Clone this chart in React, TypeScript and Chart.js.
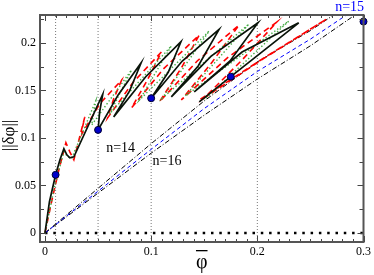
import React, { useEffect, useRef } from "react";
import { Chart, registerables } from "chart.js";

Chart.register(...registerables);

// ---- axes ----
const X_MIN = -0.0047;
const X_MAX = 0.3;
const Y_MIN = -0.0095;
const Y_MAX = 0.2294;
const X_TICKS = [0, 0.1, 0.2, 0.3];
const Y_TICKS = [0, 0.05, 0.1, 0.15, 0.2];

// ---- snaking branch, black solid ----
const BLACK_X = [0, 0.0042, 0.01, 0.0141, 0.0178, 0.0206, 0.0234, 0.0272, 0.0544, 0.0515, 0.05, 0.0689, 0.0906, 0.0797, 0.0647, 0.0947, 0.1281, 0.1162, 0.1, 0.1293, 0.164, 0.1443, 0.119, 0.1565, 0.2006, 0.1743, 0.1406, 0.1856, 0.239, 0.175, 0.1453];
const BLACK_Y = [0, 0.0329, 0.0612, 0.077, 0.0886, 0.0822, 0.0791, 0.0801, 0.146, 0.1274, 0.1085, 0.1453, 0.1792, 0.1495, 0.1222, 0.1642, 0.2013, 0.1694, 0.1418, 0.181, 0.2143, 0.1757, 0.1432, 0.1862, 0.2212, 0.181, 0.1484, 0.1904, 0.2212, 0.1645, 0.1379];

// ---- snaking branch, red dashed ----
const RED_X = [0, 0.0066, 0.0131, 0.0197, 0.0234, 0.0272, 0.0375, 0.0356, 0.0347, 0.0515, 0.0722, 0.0647, 0.059, 0.0825, 0.1097, 0.0965, 0.0815, 0.1115, 0.1453, 0.1284, 0.1078, 0.1434, 0.1828, 0.1575, 0.1284, 0.1715, 0.2184, 0.1856, 0.15, 0.2062, 0.2652, 0.2062, 0.1453];
const RED_Y = [0, 0.035, 0.0665, 0.0949, 0.0854, 0.077, 0.1222, 0.1127, 0.1043, 0.1358, 0.161, 0.1411, 0.1211, 0.1579, 0.1905, 0.161, 0.1316, 0.1726, 0.2083, 0.1736, 0.138, 0.181, 0.2188, 0.1799, 0.14, 0.1841, 0.222, 0.182, 0.1421, 0.1838, 0.2251, 0.1842, 0.14];

// ---- snaking branch, green dotted ----
const GREEN_X = [0, 0.0094, 0.0178, 0.0216, 0.0253, 0.0478, 0.044, 0.0815, 0.0609, 0.119, 0.089, 0.1546, 0.1106, 0.1921, 0.1321, 0.2296, 0.15];
const GREEN_Y = [0, 0.0507, 0.0854, 0.0801, 0.0791, 0.1389, 0.1137, 0.1715, 0.1253, 0.1968, 0.14, 0.2125, 0.1421, 0.2199, 0.1442, 0.223, 0.14];

// ---- periodic branches ----
const N14_X = [0, 0.05, 0.1, 0.15, 0.2, 0.25, 0.2718];
const N14_Y = [0, 0.047, 0.094, 0.139, 0.18, 0.213, 0.2294];
const N15_X = [0, 0.05, 0.1, 0.15, 0.2, 0.25, 0.284];
const N15_Y = [0, 0.044, 0.088, 0.131, 0.17, 0.204, 0.2294];
const N16_X = [0, 0.05, 0.1, 0.15, 0.2, 0.25, 0.292];
const N16_Y = [0, 0.042, 0.084, 0.124, 0.162, 0.197, 0.2294];

// ---- marked states ----
const DOT_X = [0.01, 0.05, 0.1, 0.175, 0.3];
const DOT_Y = [0.0612, 0.1085, 0.1418, 0.1645, 0.2225];

// ---- reference lines ----
const VLINE_X = [0.01, 0.05, 0.1, 0.2];
const ZERO_X = [0, 0.3];
const ZERO_Y = [0, 0];

// ---- annotations ----
const LABEL_TEXT = ["n=14", "n=16", "n=15"];
const LABEL_X = [0.0712, 0.1149, 0.2869];
const LABEL_Y = [0.0891, 0.0755, 0.2375];
const LABEL_COLOR = ["#000000", "#000000", "#0000ff"];

const zip = (xs: number[], ys: number[]) => xs.map((x, i) => ({ x, y: ys[i] }));

const SERIF = '"Liberation Serif", "DejaVu Serif", serif';

const decorPlugin = {
  id: "decor",
  afterDatasetsDraw(chart: any) {
    const { ctx, chartArea: a, scales } = chart;
    const xs = scales.x;
    const ys = scales.y;
    ctx.save();
    // inward ticks
    ctx.strokeStyle = "#444";
    ctx.lineWidth = 1;
    for (let i = 0; i <= 30; i++) {
      const px = Math.round(xs.getPixelForValue(i / 100)) + 0.5;
      const len = i % 10 === 0 ? 6 : 3;
      ctx.beginPath();
      ctx.moveTo(px, a.bottom);
      ctx.lineTo(px, a.bottom - len);
      ctx.moveTo(px, a.top);
      ctx.lineTo(px, a.top + len);
      ctx.stroke();
    }
    for (let i = 0; i <= 9; i++) {
      const py = Math.round(ys.getPixelForValue(i * 0.025)) + 0.5;
      const len = i % 2 === 0 ? 6 : 4;
      ctx.beginPath();
      ctx.moveTo(a.left, py);
      ctx.lineTo(a.left + len, py);
      ctx.moveTo(a.right, py);
      ctx.lineTo(a.right - len, py);
      ctx.stroke();
    }
    // frame
    ctx.strokeStyle = "#555";
    ctx.lineWidth = 2;
    ctx.strokeRect(a.left, a.top, a.right - a.left, a.bottom - a.top);

    // annotations
    ctx.font = `14px ${SERIF}`;
    ctx.textAlign = "center";
    ctx.textBaseline = "middle";
    LABEL_TEXT.forEach((t, i) => {
      ctx.fillStyle = LABEL_COLOR[i];
      ctx.fillText(t, xs.getPixelForValue(LABEL_X[i]), ys.getPixelForValue(LABEL_Y[i]));
    });

    // axis titles
    ctx.fillStyle = "#000";
    const cx = (a.left + a.right) / 2;
    ctx.font = `20px ${SERIF}`;
    ctx.textBaseline = "alphabetic";
    ctx.fillText("\u03C6", cx, 268);
    const w = ctx.measureText("\u03C6").width;
    ctx.fillRect(cx - w / 2, 250, w, 1.3);

    ctx.translate(10, (a.top + a.bottom) / 2 + 7);
    ctx.rotate(-Math.PI / 2);
    ctx.font = `17px ${SERIF}`;
    ctx.textBaseline = "middle";
    ctx.fillText("||\u03B4\u03C6||", 0, 0);
    ctx.restore();
  },
};

export default function App() {
  const ref = useRef<HTMLCanvasElement | null>(null);

  useEffect(() => {
    document.body.style.margin = "0";
    const canvas = ref.current;
    if (!canvas) return;

    const line = (data: any[], color: string, width: number, dash: number[], order: number) => ({
      data,
      showLine: true,
      borderColor: color,
      backgroundColor: color,
      borderWidth: width,
      borderDash: dash,
      pointRadius: 0,
      tension: 0,
      order,
    });

    const datasets: any[] = [
      ...VLINE_X.map((x) =>
        line([{ x, y: Y_MIN }, { x, y: Y_MAX }], "#777", 1, [1, 2], 9)
      ),
      line(zip(ZERO_X, ZERO_Y), "#000", 2.5, [2.5, 5.8], 8),
      line(zip(N14_X, N14_Y), "#000", 1, [5, 2, 1, 2], 7),
      line(zip(N16_X, N16_Y), "#000", 1, [5, 2, 1, 2], 7),
      line(zip(N15_X, N15_Y), "#0000ff", 1, [4, 3], 6),
      line(zip(RED_X, RED_Y), "#ff0000", 1.6, [6, 4], 5),
      line(zip(GREEN_X, GREEN_Y), "#44aa44", 1.4, [1.4, 2.2], 4),
      line(zip(BLACK_X, BLACK_Y), "#0a140a", 1.7, [], 3),
      {
        data: zip(DOT_X, DOT_Y),
        showLine: false,
        pointRadius: 3.5,
        pointBackgroundColor: "#0000cc",
        pointBorderColor: "#000033",
        pointBorderWidth: 1,
        clip: false,
        order: 0,
      },
    ];

    const chart = new Chart(canvas, {
      type: "scatter",
      data: { datasets },
      options: {
        animation: false,
        responsive: false,
        devicePixelRatio: 1,
        layout: { padding: { top: 15, right: 9, left: 0, bottom: 0 } },
        plugins: { legend: { display: false }, tooltip: { enabled: false } },
        scales: {
          x: {
            type: "linear",
            min: X_MIN,
            max: X_MAX,
            grid: { display: false, drawTicks: false },
            border: { display: false },
            afterBuildTicks: (s: any) => {
              s.ticks = X_TICKS.map((v) => ({ value: v }));
            },
            afterFit: (s: any) => {
              s.height = 33;
            },
            ticks: {
              padding: 3,
              color: "#000",
              font: { family: SERIF, size: 12 },
              maxRotation: 0,
              autoSkip: false,
              callback: (v: any) => String(v),
            },
          },
          y: {
            type: "linear",
            min: Y_MIN,
            max: Y_MAX,
            grid: { display: false, drawTicks: false },
            border: { display: false },
            afterBuildTicks: (s: any) => {
              s.ticks = Y_TICKS.map((v) => ({ value: v }));
            },
            afterFit: (s: any) => {
              s.width = 40;
            },
            ticks: {
              padding: 4,
              color: "#000",
              font: { family: SERIF, size: 12 },
              autoSkip: false,
              callback: (v: any) => String(v),
            },
          },
        },
      },
      plugins: [decorPlugin],
    });

    return () => chart.destroy();
  }, []);

  return (
    <div style={{ width: 374, height: 275, background: "#fff" }}>
      <canvas ref={ref} width={374} height={275} />
    </div>
  );
}
